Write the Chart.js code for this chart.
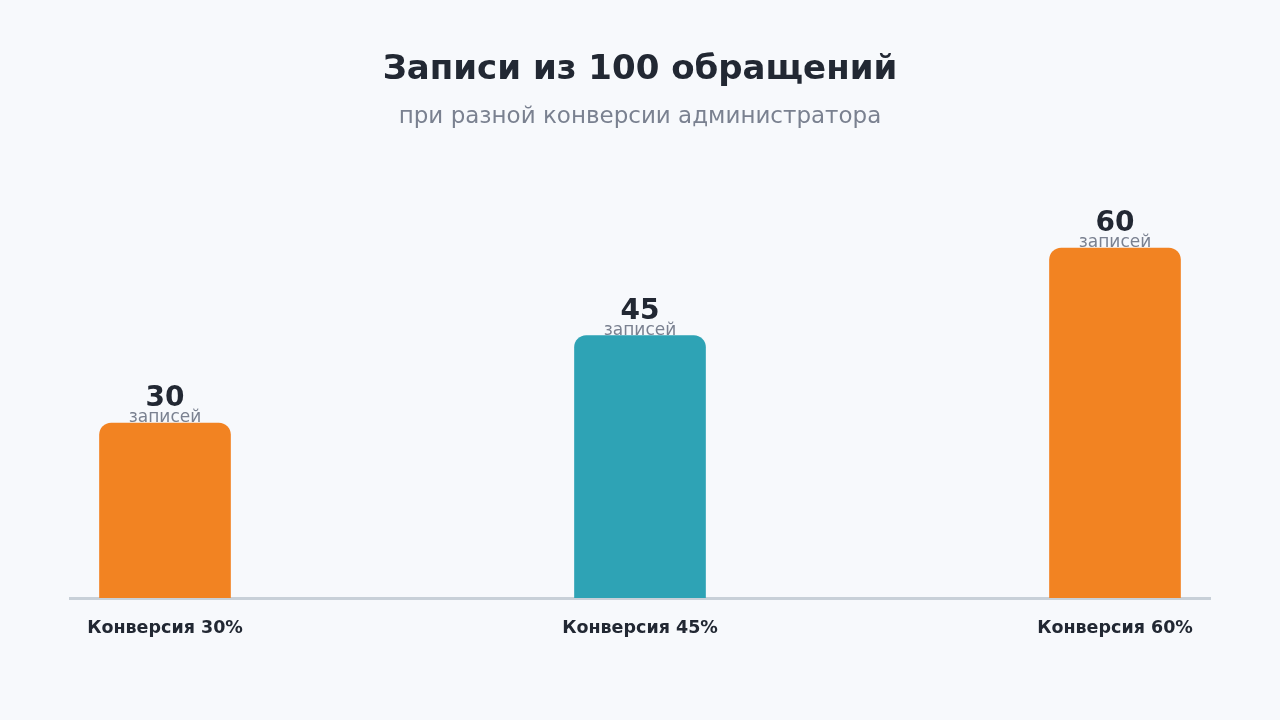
<!DOCTYPE html>
<html><head><meta charset="utf-8">
<script src="https://cdn.jsdelivr.net/npm/chart.js@4"></script>
<style>html,body{margin:0;padding:0;background:#F7F9FC;}#wrap{width:1280px;height:720px;}</style>
</head><body><div id="wrap"><canvas id="c" width="1280" height="720"></canvas></div>
<script>
const categories = ['Конверсия 30%', 'Конверсия 45%', 'Конверсия 60%'];
const values = [30, 45, 60];
const barColors = ['#F28322', '#2EA3B5', '#F28322'];
const unitLabel = 'записей';
const titleText = 'Записи из 100 обращений';
const subtitleText = 'при разной конверсии администратора';

const FONT = "'DejaVu Sans', sans-serif";
const dark = '#222833';
const gray = '#7A8190';

const labelPlugin = {
  id: 'valueLabels',
  afterDatasetsDraw(chart) {
    const ctx = chart.ctx;
    const meta = chart.getDatasetMeta(0);
    ctx.save();
    ctx.textAlign = 'center';
    meta.data.forEach((bar, i) => {
      const v = chart.data.datasets[0].data[i].y;
      ctx.fillStyle = dark;
      ctx.font = `bold 28px ${FONT}`;
      ctx.textBaseline = 'alphabetic';
      ctx.fillText(String(v), bar.x, bar.y - 17);
      ctx.fillStyle = gray;
      ctx.font = `400 17px ${FONT}`;
      ctx.textBaseline = 'middle';
      ctx.fillText(unitLabel, bar.x, bar.y - 5);
    });
    ctx.restore();
  }
};

new Chart(document.getElementById('c'), {
  type: 'bar',
  data: {
    datasets: [{
      data: values.map((v, i) => ({ x: i, y: v })),
      backgroundColor: barColors,
      barThickness: 131,
      borderRadius: { topLeft: 12, topRight: 12, bottomLeft: 0, bottomRight: 0 },
      borderSkipped: 'start'
    }]
  },
  options: {
    responsive: false,
    animation: false,
    layout: { padding: { left: 70, right: 70, top: 50, bottom: 61 } },
    plugins: {
      legend: { display: false },
      tooltip: { enabled: false },
      title: {
        display: true, text: titleText, color: dark,
        font: { family: FONT, size: 34, weight: 'bold' },
        padding: { top: 0, bottom: 12 }
      },
      subtitle: {
        display: true, text: subtitleText, color: gray,
        font: { family: FONT, size: 23, weight: '400' },
        padding: { top: 0, bottom: 1 }
      }
    },
    scales: {
      x: {
        type: 'linear', min: -0.2, max: 2.2, offset: false,
        afterBuildTicks: (s) => { s.ticks = categories.map((c, i) => ({ value: i })); },
        grid: { display: false, drawTicks: false, offset: false },
        border: { display: true, color: '#C8D0D8', width: 3 },
        ticks: {
          padding: 20, color: dark,
          font: { family: FONT, size: 17.5, weight: 'bold' },
          callback: (v) => categories[v]
        }
      },
      y: { display: false, min: 0, max: 80 }
    }
  },
  plugins: [labelPlugin]
});
</script></body></html>
